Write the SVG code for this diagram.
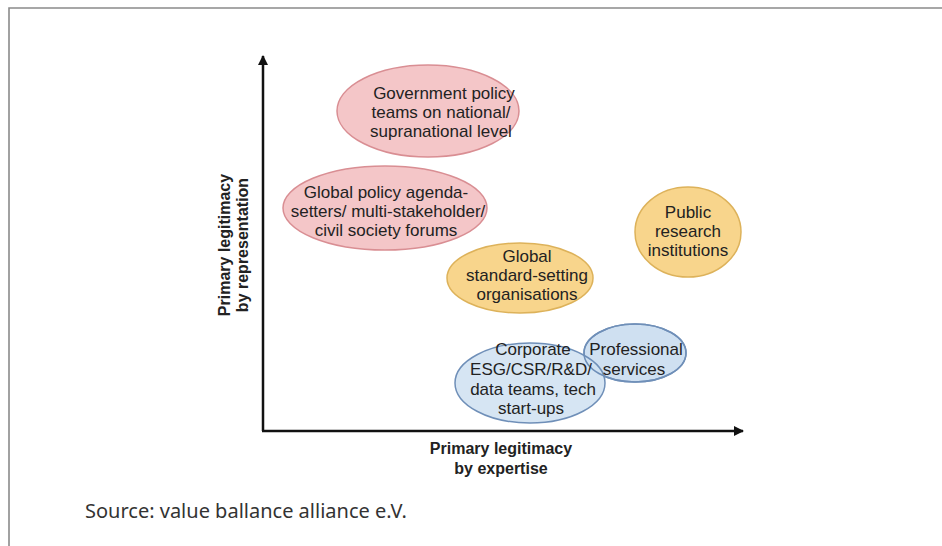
<svg xmlns="http://www.w3.org/2000/svg" width="942" height="546" viewBox="0 0 942 546">
<style>
.lbl{font-family:"Liberation Sans",Arial,sans-serif;font-size:17px;fill:#222;text-anchor:middle}
.ax{font-family:"Liberation Sans",Arial,sans-serif;font-size:16px;font-weight:bold;fill:#222;text-anchor:middle}
.src{font-family:"Noto Sans","DejaVu Sans",sans-serif;font-size:20px;fill:#333}
.pink{fill:#f4c6c8;stroke:#d98e93;stroke-width:1.5}
.orange{fill:#f8d58c;stroke:#ddb25a;stroke-width:1.5}
.blue{fill:#cfe0f1;stroke:#6f8fb8;stroke-width:1.5}
.axis{stroke:#111;stroke-width:2.5;fill:none}
</style>
<defs>
<marker id="arr" viewBox="0 0 10 10" refX="9" refY="5" markerWidth="4" markerHeight="4" orient="auto" markerUnits="strokeWidth">
<path d="M0,0 L10,5 L0,10 z" fill="#111"/>
</marker>
</defs>
<rect width="942" height="546" fill="#fff"/>
<path d="M9,546 L9,8 L942,8" fill="none" stroke="#8a8a8a" stroke-width="1.6"/>
<g id="connectors">
<path class="axis" d="M263,431 L263,56" marker-end="url(#arr)"/>
<path class="axis" d="M262,431 L743,431" marker-end="url(#arr)"/>
</g>
<g id="axis-labels">
<text class="ax" x="501" y="454">Primary legitimacy</text>
<text class="ax" x="501" y="474">by expertise</text>
<g transform="translate(230,245) rotate(-90)">
<text class="ax" x="0" y="0">Primary legitimacy</text>
<text class="ax" x="0" y="18">by representation</text>
</g>
</g>
<g id="node-government">
<ellipse class="pink" cx="428" cy="111" rx="91" ry="46"/>
<text class="lbl" x="444" y="99">Government policy</text>
<text class="lbl" x="441" y="118">teams on national/</text>
<text class="lbl" x="441" y="137">supranational level</text>
</g>
<g id="node-global-policy">
<ellipse class="pink" cx="385" cy="208" rx="102" ry="42"/>
<text class="lbl" x="386" y="198">Global policy agenda-</text>
<text class="lbl" x="388" y="217">setters/ multi-stakeholder/</text>
<text class="lbl" x="386" y="236">civil society forums</text>
</g>
<g id="node-standard">
<ellipse class="orange" cx="520" cy="278" rx="73" ry="35"/>
<text class="lbl" x="527" y="262">Global</text>
<text class="lbl" x="527" y="281">standard-setting</text>
<text class="lbl" x="527" y="300">organisations</text>
</g>
<g id="node-public-research">
<ellipse class="orange" cx="688" cy="232" rx="53" ry="45"/>
<text class="lbl" x="688" y="218">Public</text>
<text class="lbl" x="688" y="237">research</text>
<text class="lbl" x="688" y="256">institutions</text>
</g>
<g id="node-professional">
<ellipse class="blue" cx="635" cy="353" rx="51" ry="29"/>
</g>
<g id="node-corporate">
<ellipse class="blue" cx="530" cy="383" rx="75" ry="40" fill-opacity="0.85"/>
<ellipse cx="635" cy="353" rx="51" ry="29" fill="none" stroke="#6f8fb8" stroke-width="1.5"/>
<text class="lbl" x="533" y="355">Corporate</text>
<text class="lbl" x="531" y="375">ESG/CSR/R&amp;D/</text>
<text class="lbl" x="533" y="395">data teams, tech</text>
<text class="lbl" x="531" y="414">start-ups</text>
<text class="lbl" x="636" y="355">Professional</text>
<text class="lbl" x="634" y="375">services</text>
</g>
<text class="src" x="85" y="518">Source: value ballance alliance e.V.</text>
</svg>
